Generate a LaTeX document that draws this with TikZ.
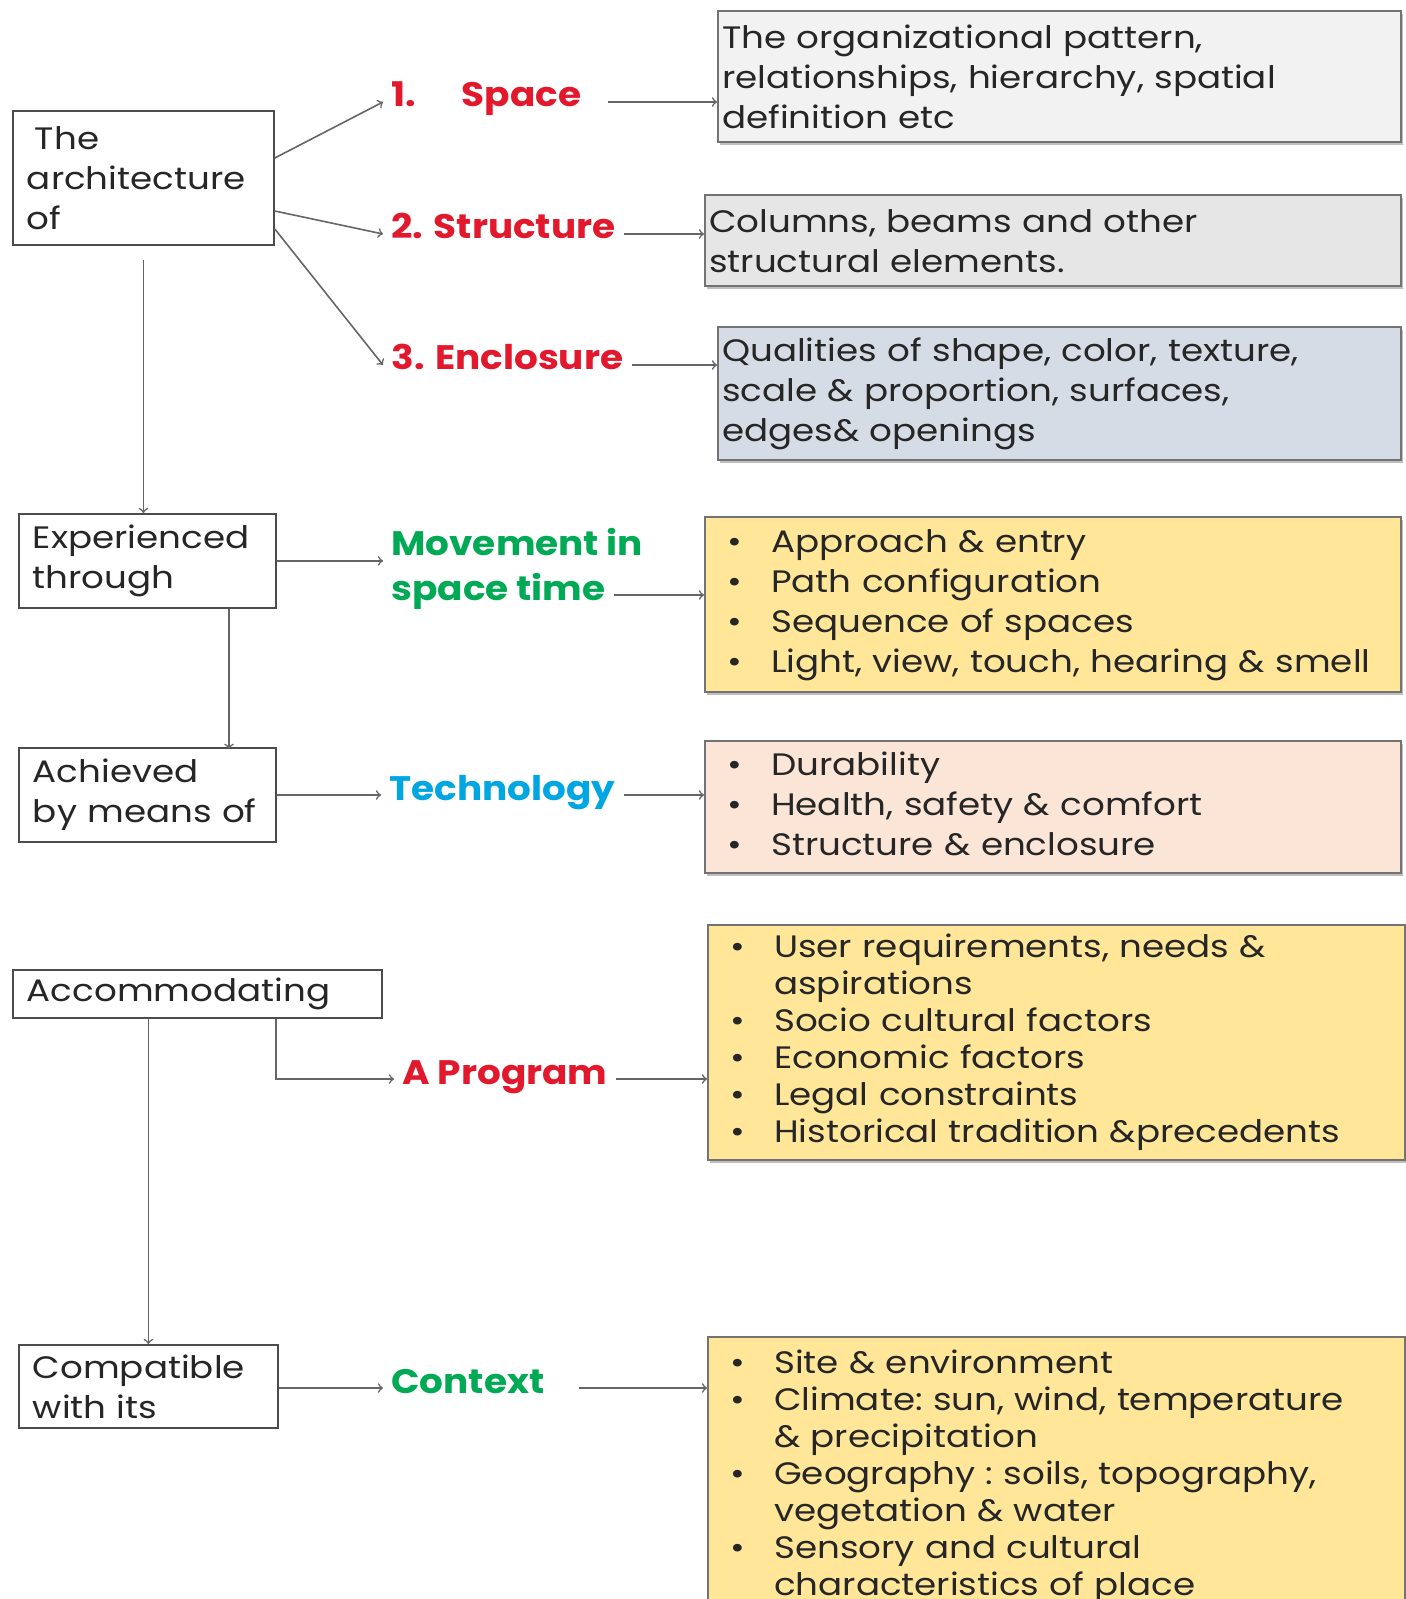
\documentclass[tikz,border=0pt]{standalone}
\usepackage{fontspec}
\setmainfont{Poppins}[FakeStretch=1.15]
\newfontfamily\lblfamily{Poppins}[FakeStretch=1.1]
\usetikzlibrary{calc,shadows}

\definecolor{lblred}{RGB}{226,24,44}
\definecolor{lblgreen}{RGB}{0,170,85}
\definecolor{lblcyan}{RGB}{0,166,226}
\definecolor{fillgrayA}{HTML}{F2F2F2}
\definecolor{fillgrayB}{HTML}{E6E6E6}
\definecolor{fillblue}{HTML}{D6DCE5}
\definecolor{fillgold}{HTML}{FFE699}
\definecolor{fillpeach}{HTML}{FBE5D6}

\newcommand\boxfont{\fontsize{15.5}{20}\selectfont\frenchspacing}
\newcommand\listfont{\fontsize{15.5}{18.5}\selectfont\frenchspacing}
\newcommand\lblfont{\lblfamily\fontsize{17}{22}\selectfont\bfseries}
\newcommand\blist[1]{\begin{tabular}{@{}p{22pt}@{}l@{}}#1\end{tabular}}

\tikzset{
  sbox/.style={draw=black!70, line width=0.9pt, fill=white, anchor=north west,
    align=left, inner xsep=7pt, inner ysep=0pt, font=\boxfont, text=black!85},
  ibox/.style={draw=black!55, line width=1.2pt, anchor=north west,
    align=left, inner xsep=2pt, inner ysep=0pt, font=\boxfont, text=black!85,
    drop shadow={shadow xshift=1pt, shadow yshift=-1.2pt, fill=black, opacity=0.25}},
  lbl/.style={anchor=west, inner xsep=4pt, font=\lblfont,
    text height=0.75em, text depth=0.25em},
  conn/.style={draw=black!60, line width=0.8pt, ->},
}

\begin{document}
\begin{tikzpicture}[x=0.5pt,y=-0.5pt]
\useasboundingbox (0,0) rectangle (1406,1599);
\clip (0,0) rectangle (1406,1599);
\fill[white] (0,0) rectangle (1406,1599);

% left column
\node[sbox, minimum height=67pt, text width=116.5pt] (archi) at (12,110)
  {\hspace*{4pt}The\\architecture\\of};
\node[sbox, minimum height=47pt, text width=114.5pt] (exper) at (18,513)
  {Experienced\\through};
\node[sbox, minimum height=47pt, text width=114.5pt] (achieved) at (18,747)
  {Achieved\\by means of};
\node[sbox, minimum height=24pt, text width=170.5pt] (accom) at (12,969)
  {Accommodating};
\node[sbox, minimum height=41.5pt, text width=115.5pt] (compat) at (18,1344)
  {Compatible\\with its};

% labels
\node[lbl, text=lblred] (space) at (383,102) {1.\hspace{23pt}Space};
\node[lbl, text=lblred] (struct) at (383,234) {2. Structure};
\node[lbl, text=lblred] (encl) at (383,365) {3. Enclosure};
\node[lbl, text=lblgreen] (move1) at (383,550) {Movement in};
\node[lbl, text=lblgreen] (move2) at (383,595) {space time};
\node[lbl, text=lblcyan] (tech) at (381,795) {Technology};
\node[lbl, text=lblred] (program) at (394,1079) {A Program};
\node[lbl, text=lblgreen] (context) at (383,1388) {Context};

% right column
\node[ibox, fill=fillgrayA, minimum height=65.5pt, text width=337.5pt] (s1) at (717,10)
  {The organizational pattern,\\relationships, hierarchy, spatial\\definition etc};
\node[ibox, fill=fillgrayB, minimum height=45.5pt, text width=344pt] (s2) at (704,194)
  {Columns, beams and other\\structural elements.};
\node[ibox, fill=fillblue, minimum height=66.5pt, text width=337.5pt] (s3) at (717,326)
  {Qualities of shape, color, texture,\\scale \& proportion, surfaces,\\edges\& openings};
\node[ibox, fill=fillgold, inner xsep=11pt, minimum height=87.5pt, text width=326pt] (mlist) at (704,516)
  {\blist{\textbullet & Approach \& entry\\ \textbullet & Path configuration\\
   \textbullet & Sequence of spaces\\ \textbullet & Light, view, touch, hearing \& smell}};
\node[ibox, fill=fillpeach, inner xsep=11pt, minimum height=66pt, text width=326pt] (tlist) at (704,740)
  {\blist{\textbullet & Durability\\ \textbullet & Health, safety \& comfort\\
   \textbullet & Structure \& enclosure}};
\node[ibox, fill=fillgold, inner xsep=11pt, minimum height=117.5pt, text width=326.5pt, font=\listfont] (plist) at (707,924)
  {\blist{\textbullet & User requirements, needs \&\\ & aspirations\\
   \textbullet & Socio cultural factors\\ \textbullet & Economic factors\\
   \textbullet & Legal constraints\\ \textbullet & Historical tradition \&precedents}};
\node[ibox, fill=fillgold, inner xsep=11pt, minimum height=140pt, text width=326.5pt, font=\listfont] (xlist) at (707,1336)
  {\blist{\textbullet & Site \& environment\\
   \textbullet & Climate: sun, wind, temperature\\ & \& precipitation\\
   \textbullet & Geography : soils, topography,\\ & vegetation \& water\\
   \textbullet & Sensory and cultural\\ & characteristics of place}};

% connectors
\draw[conn] ($(archi.north east)+(0,48)$) -- (space.west);
\draw[conn] ($(archi.north east)+(0,101)$) -- (struct.west);
\draw[conn] ($(archi.north east)+(0,119)$) -- (encl.west);
\draw[conn] ($(space.east)+(18,0)$) -- (space.east -| s1.west);
\draw[conn] (struct.east) -- (struct.east -| s2.west);
\draw[conn] (encl.east) -- (encl.east -| s3.west);
\draw[conn] ([yshift=-7pt]archi.south) -- (archi.south |- exper.north);
\draw[conn] (exper.east) -- (exper.east -| move1.west);
\draw[conn] (move2.east) -- (move2.east -| mlist.west);
\draw[conn] ($(exper.south west)+(211,0)$) -- ++(0,140);
\draw[conn] (achieved.east |- tech.west) -- (tech.west);
\draw[conn] (tech.east) -- (tech.east -| tlist.west);
\draw[conn] ($(accom.south west)+(264,0)$) |- (program.west);
\draw[conn] (program.east) -- (program.east -| plist.west);
\draw[conn] (accom.south -| compat.north) -- (compat.north);
\draw[conn] (compat.east |- context.west) -- (context.west);
\draw[conn] ($(context.east)+(26,0)$) -- (context.east -| xlist.west);
\end{tikzpicture}
\end{document}
